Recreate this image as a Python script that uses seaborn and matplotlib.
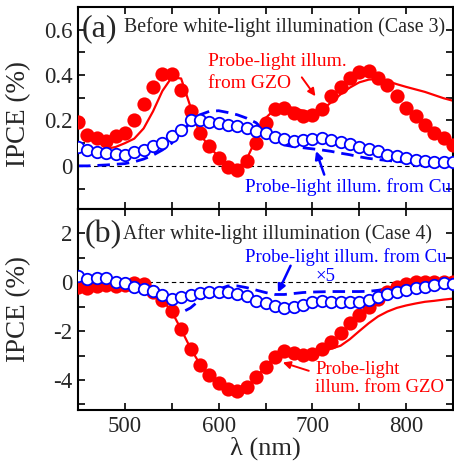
import numpy as np
import pandas as pd
import matplotlib
matplotlib.use("Agg")
import matplotlib.pyplot as plt
import seaborn as sns
from matplotlib.ticker import MultipleLocator, FuncFormatter

# ---------------- data ----------------
wavelength = list(range(450, 851, 10))

# (a) before white-light illumination (Case 3)
gzo_exp_a = [0.193, 0.138, 0.121, 0.111, 0.133, 0.145, 0.20, 0.274, 0.348, 0.404, 0.404,
             0.336, 0.241, 0.145, 0.086, 0.034, -0.004, -0.018, 0.021, 0.10, 0.191,
             0.25, 0.253, 0.235, 0.218, 0.224, 0.25, 0.306, 0.346, 0.385, 0.415,
             0.419, 0.385, 0.356, 0.306, 0.257, 0.218, 0.18, 0.147, 0.121, 0.09]
cu_exp_a = [0.081, 0.071, 0.059, 0.055, 0.052, 0.050, 0.059, 0.070, 0.089, 0.10, 0.133,
            0.16, 0.20, 0.204, 0.193, 0.188, 0.18, 0.175, 0.166, 0.155, 0.143,
            0.128, 0.118, 0.11, 0.113, 0.12, 0.124, 0.115, 0.103, 0.096, 0.084,
            0.074, 0.065, 0.05, 0.044, 0.034, 0.025, 0.021, 0.018, 0.018, 0.015]
gzo_sim_a = [0.075, 0.072, 0.072, 0.075, 0.083, 0.10, 0.12, 0.165, 0.24, 0.33, 0.39,
             0.385, 0.26, 0.14, 0.085, 0.04, 0.005, -0.01, 0.03, 0.12, 0.21,
             0.25, 0.263, 0.255, 0.243, 0.232, 0.245, 0.28, 0.315, 0.345, 0.368,
             0.38, 0.384, 0.374, 0.36, 0.348, 0.337, 0.326, 0.312, 0.298, 0.287]
cu_sim_a = [0.0, 0.0, 0.002, 0.004, 0.007, 0.01, 0.018, 0.03, 0.047, 0.07, 0.10,
            0.148, 0.19, 0.225, 0.24, 0.243, 0.235, 0.225, 0.21, 0.19, 0.15,
            0.11, 0.092, 0.085, 0.08, 0.075, 0.07, 0.064, 0.056, 0.049, 0.04,
            0.033, 0.028, 0.024, 0.02, 0.016, 0.012, 0.008, 0.004, 0.002, 0.0]

# (b) after white-light illumination (Case 4)
gzo_exp_b = [-0.2, -0.24, -0.15, -0.11, -0.15, -0.12, -0.05, -0.08, -0.38, -0.72, -1.19,
             -1.93, -2.72, -3.38, -3.8, -4.14, -4.36, -4.47, -4.3, -3.89, -3.47,
             -3.04, -2.81, -2.9, -2.99, -2.95, -2.72, -2.43, -2.07, -1.66, -1.32,
             -1.01, -0.69, -0.38, -0.18, -0.07, 0.0, 0.03, 0.03, 0.03, 0.0]
cu_exp_b = [0.26, 0.12, 0.16, 0.16, 0.03, -0.04, -0.18, -0.27, -0.35, -0.51, -0.68,
            -0.62, -0.51, -0.45, -0.38, -0.41, -0.41, -0.47, -0.58, -0.78, -0.85,
            -0.99, -1.05, -1.03, -0.92, -0.82, -0.78, -0.81, -0.82, -0.82, -0.81,
            -0.74, -0.62, -0.49, -0.38, -0.31, -0.24, -0.18, -0.11, -0.04, -0.08]
gzo_sim_b = [-0.2, -0.2, -0.17, -0.13, -0.12, -0.1, -0.07, -0.1, -0.35, -0.72, -1.2,
             -1.93, -2.7, -3.35, -3.8, -4.12, -4.35, -4.45, -4.3, -3.9, -3.45,
             -3.05, -2.85, -2.9, -2.98, -2.98, -2.85, -2.72, -2.6, -2.33, -2.0,
             -1.68, -1.4, -1.2, -1.05, -0.95, -0.87, -0.8, -0.76, -0.71, -0.67]
cu_sim_b = [0.0, 0.0, 0.0, 0.0, -0.02, -0.05, -0.12, -0.25, -0.45, -0.78, -1.15,
            -1.25, -1.05, -0.72, -0.45, -0.28, -0.15, -0.15, -0.22, -0.32, -0.42,
            -0.5, -0.5, -0.46, -0.42, -0.4, -0.39, -0.38, -0.38, -0.38, -0.38,
            -0.37, -0.33, -0.26, -0.17, -0.1, -0.05, -0.02, 0.0, 0.0, 0.0]

x_ticks = [500, 600, 700, 800]

# ---------------- style ----------------
sns.set_style("ticks")
plt.rcParams['font.family'] = ['Liberation Serif', 'DejaVu Serif']
plt.rcParams['mathtext.fontset'] = 'stix'
plt.rcParams['axes.unicode_minus'] = False

RED = '#ff0000'
BLUE = '#0000ff'

W, H = 454, 468
fig = plt.figure(figsize=(W / 100, H / 100), dpi=100)
L, R = 78, 453
T, M, B = 7, 209, 410
ax1 = fig.add_axes([L / W, 1 - M / H, (R - L) / W, (M - T) / H])
ax2 = fig.add_axes([L / W, 1 - B / H, (R - L) / W, (B - M) / H])

df_a = pd.DataFrame({'wl': wavelength, 'gzo_exp': gzo_exp_a, 'cu_exp': cu_exp_a,
                     'gzo_sim': gzo_sim_a, 'cu_sim': cu_sim_a})
df_b = pd.DataFrame({'wl': wavelength, 'gzo_exp': gzo_exp_b, 'cu_exp': cu_exp_b,
                     'gzo_sim': gzo_sim_b, 'cu_sim': cu_sim_b})


def draw(ax, df):
    ax.axhline(0, color='black', lw=0.8, ls=(0, (4, 3)), zorder=1)
    sns.lineplot(data=df, x='wl', y='gzo_sim', ax=ax, color=RED, lw=1.6, zorder=2)
    sns.lineplot(data=df, x='wl', y='cu_sim', ax=ax, color=BLUE, lw=2.0, zorder=2,
                 dashes=False, linestyle=(0, (4.5, 2.5)))
    sns.scatterplot(data=df, x='wl', y='gzo_exp', ax=ax, color=RED, s=105,
                    edgecolor=RED, linewidth=0, zorder=3)
    sns.scatterplot(data=df, x='wl', y='cu_exp', ax=ax, facecolor='white', s=68,
                    edgecolor=BLUE, linewidth=1.3, zorder=4)
    ax.set_xlim(450, 850)
    ax.xaxis.set_major_locator(MultipleLocator(100))
    ax.xaxis.set_minor_locator(MultipleLocator(50))
    ax.tick_params(which='both', direction='in', length=5, width=1.2,
                   top=True, right=True, labelsize=16.5, pad=4, color='black')
    for s in ax.spines.values():
        s.set_linewidth(1.5)
        s.set_color('black')
    ax.set_ylabel('IPCE (%)', fontsize=19.5)


draw(ax1, df_a)
draw(ax2, df_b)

fmt = FuncFormatter(lambda v, p: '%g' % round(v, 3))

ax1.set_ylim(-0.19, 0.70)
ax1.yaxis.set_major_locator(MultipleLocator(0.2))
ax1.yaxis.set_minor_locator(MultipleLocator(0.1))
ax1.yaxis.set_major_formatter(fmt)
ax1.set_xticklabels([])
ax1.set_xlabel('')
ax1.yaxis.set_label_coords(-0.125, 0.47)

ax2.set_ylim(-5.23, 3.0)
ax2.yaxis.set_major_locator(MultipleLocator(2))
ax2.yaxis.set_minor_locator(MultipleLocator(1))
ax2.yaxis.set_major_formatter(fmt)
ax2.set_xticks(x_ticks)
ax2.set_xticklabels([str(t) for t in x_ticks])
ax2.set_xlabel('λ (nm)', fontsize=19, labelpad=0)
ax2.yaxis.set_label_coords(-0.125, 0.5)

# ---------------- annotations ----------------
ax1.text(454, 0.603, '(a)', fontsize=23, ha='left', va='center')
ax1.text(499, 0.612, 'Before white-light illumination (Case 3)', fontsize=14.3,
         ha='left', va='center')
ax1.text(589, 0.458, 'Probe-light illum.', color=RED, fontsize=14, ha='left', va='center')
ax1.text(589, 0.365, 'from GZO', color=RED, fontsize=14, ha='left', va='center')
ax1.text(628, -0.093, 'Probe-light illum. from Cu', color=BLUE, fontsize=13.9,
         ha='left', va='center')
ax1.annotate('', xy=(705, 0.297), xytext=(687, 0.40),
             arrowprops=dict(arrowstyle='-|>', color=RED, lw=1.4, mutation_scale=11))
ax1.annotate('', xy=(703, 0.077), xytext=(713.6, -0.05),
             arrowprops=dict(arrowstyle='-|>', color=BLUE, lw=1.8, mutation_scale=11))

ax2.text(457.5, 1.94, '(b)', fontsize=23, ha='left', va='center')
ax2.text(498, 1.98, 'After white-light illumination (Case 4)', fontsize=14.3,
         ha='left', va='center')
ax2.text(628, 1.04, 'Probe-light illum. from Cu', color=BLUE, fontsize=13.5,
         ha='left', va='center')
ax2.text(703, 0.23, '×5', color=BLUE, fontsize=13.5, ha='left', va='center')
ax2.annotate('', xy=(662, -0.52), xytext=(678, 0.78),
             arrowprops=dict(arrowstyle='-|>', color=BLUE, lw=1.8, mutation_scale=11))
ax2.text(703, -3.57, 'Probe-light', color=RED, fontsize=13.5, ha='left', va='center')
ax2.text(703, -4.30, 'illum. from GZO', color=RED, fontsize=13.5, ha='left', va='center')
ax2.annotate('', xy=(665.6, -3.25), xytext=(699, -3.66),
             arrowprops=dict(arrowstyle='-|>', color=RED, lw=1.4, mutation_scale=11))

fig.savefig('out.png', dpi=100)
